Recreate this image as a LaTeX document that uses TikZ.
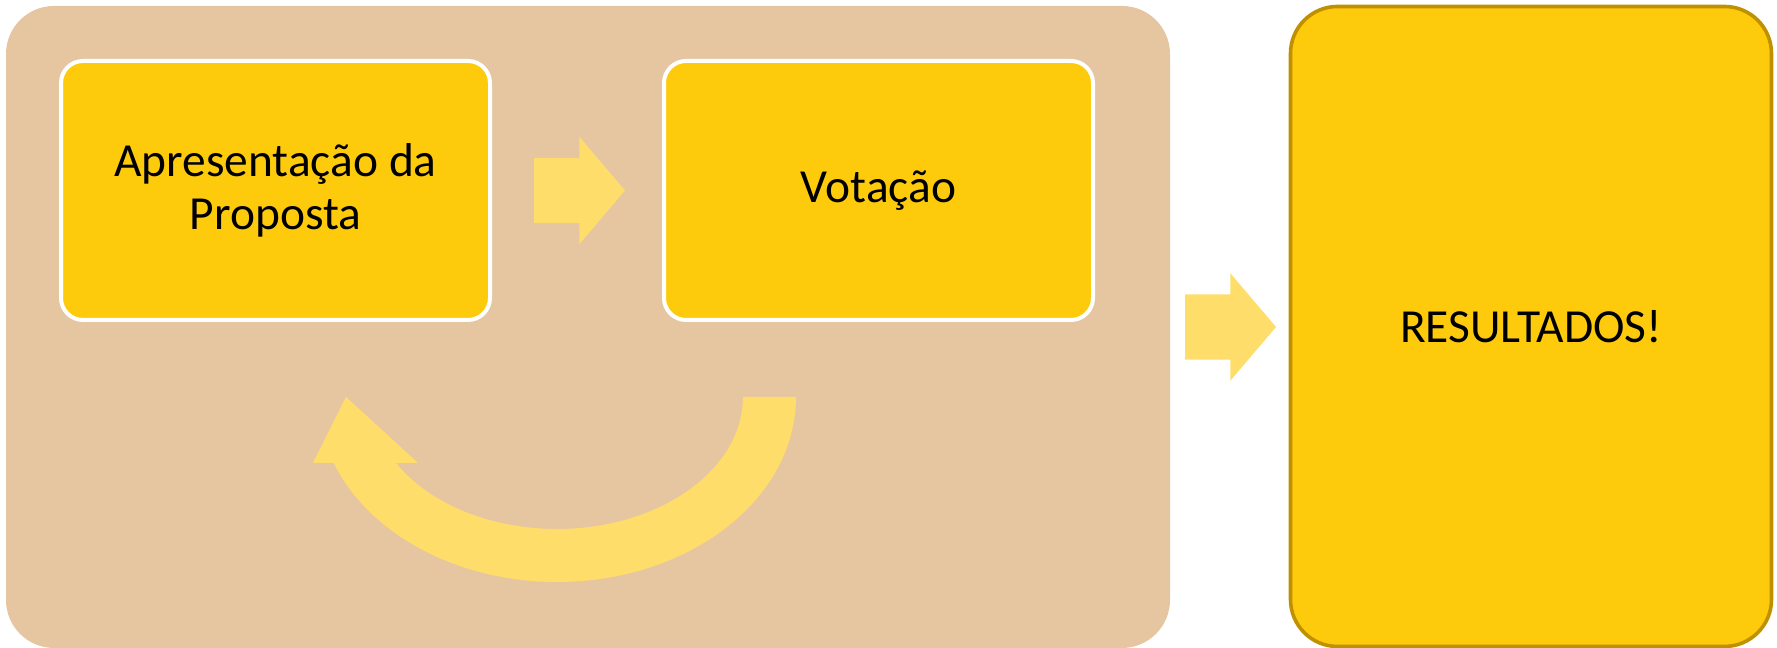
\documentclass[tikz,border=0pt]{standalone}
\usepackage{fontspec}
\setmainfont{Carlito}
\usetikzlibrary{positioning,shapes.arrows,calc}

\definecolor{panelbg}{HTML}{E5C6A0}
\definecolor{stepgold}{HTML}{FECA0C}
\definecolor{arrowgold}{HTML}{FFDD6B}
\definecolor{edgegold}{HTML}{BF9000}

\tikzset{
  panel/.style={rectangle, rounded corners=0.48cm, fill=panelbg, outer sep=0pt,
    minimum width=11.64cm, minimum height=6.42cm},
  stepbox/.style={rectangle, rounded corners=0.22cm, fill=stepgold, draw=white,
    line width=0.04cm, outer sep=0pt, minimum width=4.29cm, minimum height=2.59cm,
    align=center, font=\fontsize{13.5}{15.1}\selectfont},
  resbox/.style={rectangle, rounded corners=0.47cm, fill=stepgold, draw=edgegold,
    line width=0.036cm, outer sep=0pt, minimum width=4.81cm, minimum height=6.40cm,
    align=center, font=\fontsize{13.5}{15.1}\selectfont},
  blockarrow/.style={single arrow, fill=arrowgold, inner sep=0pt, outer sep=0pt,
    text height=0.32cm, text depth=0.32cm, minimum height=0.91cm,
    minimum width=1.06cm, single arrow head extend=0.21cm,
    single arrow tip angle=99.3}
}

\begin{document}
\begin{tikzpicture}
  \useasboundingbox (0,0) rectangle (17.77,6.48);

  % Nodes
  \node (stage) [panel] at (5.88,3.21) {};
  \node (prop) [stepbox] at (2.755,4.575) {Apresentação da\\Proposta};
  \node (vot) [stepbox, right=1.74cm of prop] {Votação};
  \node (arrA) [blockarrow, right=0.44cm of prop] {};
  \node (res) [resbox] at (15.31,3.215) {RESULTADOS!};
  \node (arrB) [blockarrow, right=0.15cm of stage] {};

  % Curved arrow back from Votação to Apresentação
  \coordinate (loopc) at (5.57,2.51);
  \fill[arrowgold] ($(loopc)+(2.39,0)$)
      arc[start angle=0, end angle=-159.1, x radius=2.39cm, y radius=1.85cm]
      -- (3.13,1.85) -- (3.46,2.51) -- (4.18,1.85) -- (3.959,1.85)
      arc[start angle=-150, end angle=0, x radius=1.86cm, y radius=1.32cm]
      -- cycle;
\end{tikzpicture}
\end{document}
